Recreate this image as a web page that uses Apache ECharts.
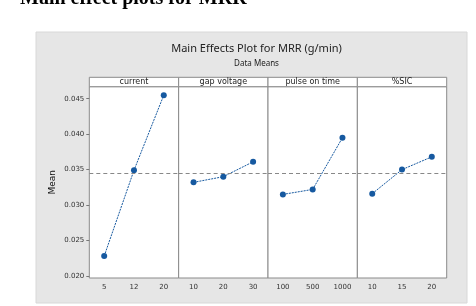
<!DOCTYPE html>
<html>
<head>
<meta charset="utf-8">
<script src="https://cdn.jsdelivr.net/npm/echarts@6/dist/echarts.min.js"></script>
<style>
  html, body { margin: 0; padding: 0; background: #fff; }
  #chart { width: 476px; height: 306px; }
</style>
</head>
<body>
<div id="chart"></div>
<script>
// factor names and their levels
const factors = ['current', 'gap voltage', 'pulse on time', '%SIC'];
const currentLevels = ['5', '12', '20'];
const gapLevels = ['10', '20', '30'];
const pulseLevels = ['100', '500', '1000'];
const sicLevels = ['10', '15', '20'];

// data means of MRR (g/min) for each level
const currentMeans = [0.0228, 0.0349, 0.0455];
const gapMeans = [0.0332, 0.0340, 0.0361];
const pulseMeans = [0.0315, 0.0322, 0.0395];
const sicMeans = [0.0316, 0.0350, 0.0368];

const yTicks = [0.020, 0.025, 0.030, 0.035, 0.040, 0.045];

const levels = [currentLevels, gapLevels, pulseLevels, sicLevels];
const means = [currentMeans, gapMeans, pulseMeans, sicMeans];

// grand mean for the dashed reference line
let all = [].concat(currentMeans, gapMeans, pulseMeans, sicMeans);
let grandMean = all.reduce((a, b) => a + b, 0) / all.length;

const blue = '#1659a0';
const left0 = 89.3, panelW = 89.35, plotTop = 86.7, plotH = 191.3, stripH = 9.4;

let chart = echarts.init(document.getElementById('chart'), null, { renderer: 'canvas' });

let grids = [], xAxes = [], yAxes = [], series = [], graphics = [];

graphics.push({
  type: 'rect', z: -10,
  shape: { x: 36, y: 32, width: 431, height: 271 },
  style: { fill: '#e6e6e6', stroke: '#d8d8d8' }
});
graphics.push({
  type: 'text', z: 10,
  style: { text: 'Main effect plots for MRR', x: 20, y: -11, fill: '#000',
    font: 'bold 20px "Liberation Serif"' }
});

factors.forEach((f, i) => {
  let x = left0 + i * panelW;
  grids.push({ left: x, top: plotTop, width: panelW, height: plotH, show: true,
    backgroundColor: '#fff', borderColor: '#8a8a8a', borderWidth: 1 });
  xAxes.push({
    type: 'category', gridIndex: i, data: levels[i], boundaryGap: true,
    axisLine: { show: false },
    axisTick: { alignWithLabel: true, length: 3, lineStyle: { color: '#777' } },
    axisLabel: { fontSize: 7, color: '#333', margin: 6, fontFamily: 'DejaVu Sans' }
  });
  yAxes.push({
    type: 'value', gridIndex: i, min: 0.0197, max: 0.0467,
    splitLine: { show: false },
    axisLine: { show: false },
    axisTick: { show: i === 0, length: 3, customValues: yTicks, lineStyle: { color: '#777' } },
    axisLabel: { show: i === 0, customValues: yTicks, fontSize: 7, color: '#333', margin: 5,
      fontFamily: 'DejaVu Sans', formatter: v => v.toFixed(3) },
    name: i === 0 ? 'Mean' : '', nameLocation: 'middle', nameGap: 32,
    nameTextStyle: { fontSize: 9, color: '#111', fontFamily: 'DejaVu Sans' }
  });
  series.push({
    type: 'line', xAxisIndex: i, yAxisIndex: i, data: means[i],
    symbol: 'circle', symbolSize: 6,
    itemStyle: { color: blue },
    lineStyle: { color: blue, width: 1, type: [2, 1] },
    markLine: {
      silent: true, symbol: 'none', label: { show: false }, precision: 6,
      lineStyle: { color: '#888', type: [4, 3], width: 1 },
      data: [{ yAxis: grandMean }]
    }
  });
  // strip header
  graphics.push({
    type: 'rect',
    shape: { x: x, y: plotTop - stripH, width: panelW, height: stripH },
    style: { fill: '#fff', stroke: '#8a8a8a', lineWidth: 1 }
  });
  graphics.push({
    type: 'text',
    style: { text: f, x: x + panelW / 2, y: plotTop - stripH / 2, align: 'center',
      verticalAlign: 'middle', fill: '#222', font: '8px "DejaVu Sans"' }
  });
});

chart.setOption({
  animation: false,
  title: [
    { text: 'Main Effects Plot for MRR (g/min)', left: 251.5, textAlign: 'center', top: 38,
      textStyle: { fontSize: 11, fontWeight: 'normal', color: '#222', fontFamily: 'Noto Sans' } },
    { text: 'Data Means', left: 251.5, textAlign: 'center', top: 55,
      textStyle: { fontSize: 8, fontWeight: 'normal', color: '#222', fontFamily: 'Noto Sans' } }
  ],
  grid: grids,
  xAxis: xAxes,
  yAxis: yAxes,
  series: series,
  graphic: graphics
});
</script>
</body>
</html>
